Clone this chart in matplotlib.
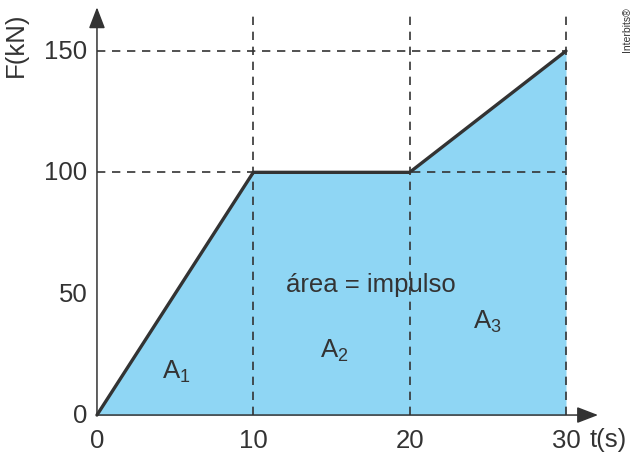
import matplotlib
matplotlib.use("Agg")
import matplotlib.pyplot as plt

plt.rcParams['font.family'] = ['Liberation Sans', 'DejaVu Sans']
plt.rcParams['mathtext.fontset'] = 'custom'
plt.rcParams['mathtext.rm'] = 'Liberation Sans'
plt.rcParams['mathtext.it'] = 'Liberation Sans'

# force vs time
t = [0, 10, 20, 30]
F = [0, 100, 100, 150]
xticks = [0, 10, 20, 30]
yticks = [0, 50, 100, 150]
area_labels = ['A$_\\mathregular{1}$', 'A$_\\mathregular{2}$', 'A$_\\mathregular{3}$']
area_pos = [(5.1, 18), (15.2, 27), (25.0, 38.7)]

fill_color = '#8fd6f4'
dark = '#333333'
fs = 18.5

fig = plt.figure(figsize=(6.34, 4.56), dpi=100)
# axes placed so that data maps to the reference pixels
ax = fig.add_axes([65.7 / 634, 1 - 420.9 / 456, (612.9 - 65.7) / 634, (420.9 - 8.3) / 456])
ax.set_xlim(-2, 33)
ax.set_ylim(-2, 168)
ax.axis('off')

# shaded area
ax.fill_between(t, F, 0, color=fill_color, lw=0, zorder=1)

# dashed guides
for x in xticks[1:]:
    ax.plot([x, x], [0, 165], ls=(0, (5, 4)), color=dark, lw=1.2, zorder=2)
for y in yticks[2:]:
    ax.plot([0, 30], [y, y], ls=(0, (5, 4)), color=dark, lw=1.2, zorder=2)

# curve
ax.plot(t, F, color=dark, lw=2.4, zorder=4, solid_capstyle='round')

# axes with arrows
arrow = dict(arrowstyle='-|>,head_length=1.3,head_width=0.5', color=dark, lw=1.1,
             shrinkA=0, shrinkB=0, mutation_scale=10)
ax.annotate('', xy=(32.05, 0), xytext=(0, 0), arrowprops=arrow, zorder=5)
ax.annotate('', xy=(0, 168), xytext=(0, 0), arrowprops=arrow, zorder=5)

# tick labels
for x in xticks:
    ax.text(x, -5.5, str(x), ha='center', va='top', fontsize=fs, color=dark)
for y in yticks:
    ax.text(-0.6, y, str(y), ha='right', va='center', fontsize=fs, color=dark)

ax.text(-5.2, 153, 'F(kN)', rotation=90, ha='center', va='center', fontsize=fs, color=dark)
ax.text(32.7, -10, 't(s)', ha='center', va='center', fontsize=fs, color=dark)

ax.text(17.5, 54, 'área = impulso', ha='center', va='center', fontsize=fs, color=dark, zorder=6)
for lab, (x, y) in zip(area_labels, area_pos):
    ax.text(x, y, lab, ha='center', va='center', fontsize=fs, color=dark, zorder=6)

fig.text(627 / 634, 1 - 30 / 456, 'Interbits®', rotation=90, ha='center', va='center',
         fontsize=7.5, color=dark)

fig.savefig('out.png', dpi=100)
